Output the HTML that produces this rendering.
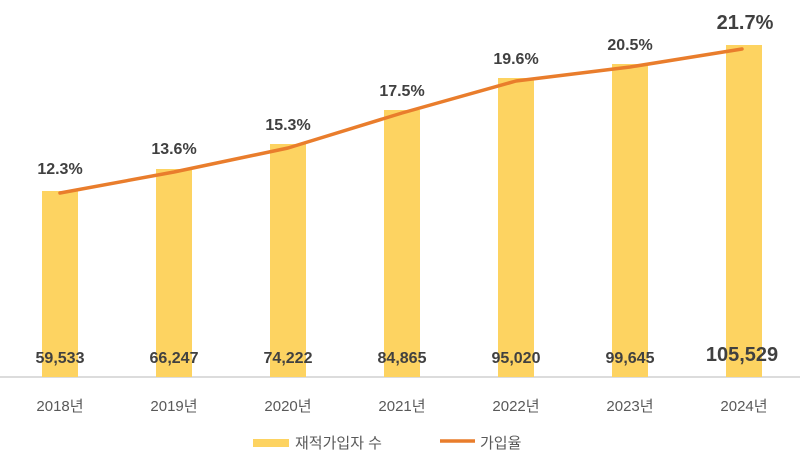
<!DOCTYPE html><html><head><meta charset="utf-8"><style>body{margin:0;background:#fff}svg{display:block}</style></head><body>
<svg width="800" height="456" xmlns="http://www.w3.org/2000/svg" font-family="Liberation Sans, Noto Sans CJK KR, sans-serif">
<line x1="0" y1="377" x2="800" y2="377" stroke="#d0d0d0" stroke-width="1.5"/>
<g fill="#fdd361">
<rect x="42" y="191" width="36" height="186"/>
<rect x="156" y="169" width="36" height="208"/>
<rect x="270" y="144" width="36" height="233"/>
<rect x="384" y="110" width="36" height="267"/>
<rect x="498" y="78" width="36" height="299"/>
<rect x="612" y="64" width="36" height="313"/>
<rect x="726" y="45" width="36" height="332"/>
</g>
<polyline points="60,193 174,172 288,148 402,113 516,81 630,67 742,49" fill="none" stroke="#e97d2c" stroke-width="3.5" stroke-linecap="round" stroke-linejoin="round"/>
<g fill="#404040" font-weight="bold" font-size="16" text-anchor="middle">
<text x="60" y="174">12.3%</text><text x="174" y="154">13.6%</text><text x="288" y="130">15.3%</text><text x="402" y="96">17.5%</text><text x="516" y="64">19.6%</text><text x="630" y="50">20.5%</text><text x="745" y="29" font-size="20">21.7%</text>
<text x="60" y="363">59,533</text><text x="174" y="363">66,247</text><text x="288" y="363">74,222</text><text x="402" y="363">84,865</text><text x="516" y="363">95,020</text><text x="630" y="363">99,645</text><text x="742" y="361" font-size="20">105,529</text>
</g>
<g fill="#595959" font-size="15" text-anchor="middle">
<text x="60" y="411">2018년</text><text x="174" y="411">2019년</text><text x="288" y="411">2020년</text><text x="402" y="411">2021년</text><text x="516" y="411">2022년</text><text x="630" y="411">2023년</text><text x="744" y="411">2024년</text>
</g>
<rect x="253" y="439" width="36" height="8" fill="#fdd361"/>
<text x="295" y="448" font-size="15" fill="#595959">재적가입자 수</text>
<line x1="440" y1="441" x2="475" y2="441" stroke="#e97d2c" stroke-width="3.5"/>
<text x="480" y="448" font-size="15" fill="#595959">가입율</text>
</svg></body></html>
